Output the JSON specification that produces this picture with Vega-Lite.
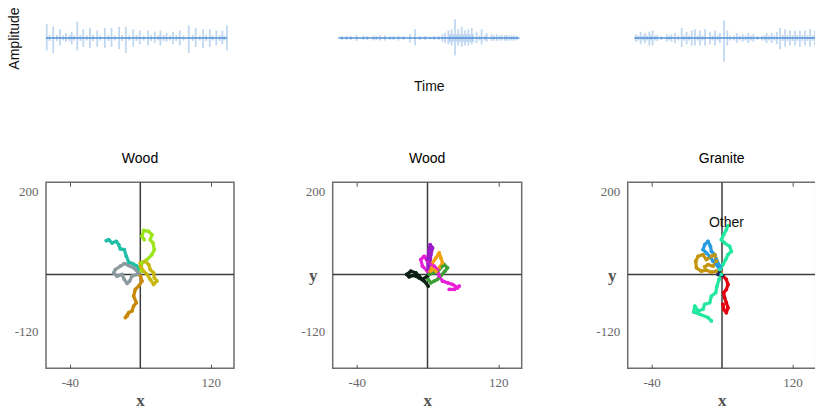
{
  "$schema": "https://vega.github.io/schema/vega-lite/v6.json",
  "autosize": {"type": "none"},
  "padding": {"left": 46, "top": 13, "right": 769, "bottom": 397},
  "config": {
    "view": {"stroke": null},
    "axis": {"grid": false},
    "title": {"font": "Liberation Sans", "fontSize": 14, "fontWeight": "normal", "color": "#000000"},
    "text": {"font": "Liberation Sans"}
  },
  "datasets": {
    "base": [
      {"p": 1, "start": 0, "end": 100, "level": 0},
      {"p": 2, "start": 0, "end": 100, "level": 0},
      {"p": 3, "start": 0, "end": 100, "level": 0}
    ],
    "wave": [
      {"p": 1, "t": 0.4, "lo": -0.5, "hi": 0.55}, {"p": 1, "t": 4.0, "lo": -0.6, "hi": 0.45}, {"p": 1, "t": 7.7, "lo": -0.3, "hi": 0.35},
      {"p": 1, "t": 11, "lo": -0.15, "hi": 0.2}, {"p": 1, "t": 14.2, "lo": -0.25, "hi": 0.25}, {"p": 1, "t": 17.3, "lo": -0.5, "hi": 0.65},
      {"p": 1, "t": 20.6, "lo": -0.35, "hi": 0.35}, {"p": 1, "t": 24.3, "lo": -0.4, "hi": 0.4}, {"p": 1, "t": 28.3, "lo": -0.35, "hi": 0.3},
      {"p": 1, "t": 32.5, "lo": -0.4, "hi": 0.4}, {"p": 1, "t": 36.2, "lo": -0.35, "hi": 0.4}, {"p": 1, "t": 40.4, "lo": -0.45, "hi": 0.45},
      {"p": 1, "t": 44.1, "lo": -0.6, "hi": 0.45}, {"p": 1, "t": 48.2, "lo": -0.35, "hi": 0.35}, {"p": 1, "t": 51.8, "lo": -0.25, "hi": 0.3},
      {"p": 1, "t": 56.4, "lo": -0.3, "hi": 0.3}, {"p": 1, "t": 60.1, "lo": -0.2, "hi": 0.25}, {"p": 1, "t": 63.2, "lo": -0.3, "hi": 0.3},
      {"p": 1, "t": 66.6, "lo": -0.15, "hi": 0.2}, {"p": 1, "t": 70.2, "lo": -0.25, "hi": 0.25}, {"p": 1, "t": 73.9, "lo": -0.3, "hi": 0.3},
      {"p": 1, "t": 78.9, "lo": -0.6, "hi": 0.5}, {"p": 1, "t": 82.7, "lo": -0.35, "hi": 0.4}, {"p": 1, "t": 86.8, "lo": -0.4, "hi": 0.35},
      {"p": 1, "t": 90.5, "lo": -0.35, "hi": 0.35}, {"p": 1, "t": 94.1, "lo": -0.3, "hi": 0.3}, {"p": 1, "t": 97.4, "lo": -0.25, "hi": 0.3},
      {"p": 1, "t": 100, "lo": -0.5, "hi": 0.5},
      {"p": 1, "t": 2, "lo": -0.12, "hi": 0.12}, {"p": 1, "t": 6, "lo": -0.12, "hi": 0.12}, {"p": 1, "t": 9.5, "lo": -0.1, "hi": 0.1},
      {"p": 1, "t": 13, "lo": -0.12, "hi": 0.12}, {"p": 1, "t": 15.5, "lo": -0.1, "hi": 0.1}, {"p": 1, "t": 19, "lo": -0.12, "hi": 0.12},
      {"p": 1, "t": 22.5, "lo": -0.1, "hi": 0.1}, {"p": 1, "t": 26, "lo": -0.12, "hi": 0.12}, {"p": 1, "t": 30, "lo": -0.1, "hi": 0.1},
      {"p": 1, "t": 34.5, "lo": -0.12, "hi": 0.12}, {"p": 1, "t": 38, "lo": -0.1, "hi": 0.1}, {"p": 1, "t": 42, "lo": -0.12, "hi": 0.12},
      {"p": 1, "t": 46, "lo": -0.1, "hi": 0.1}, {"p": 1, "t": 50, "lo": -0.12, "hi": 0.12}, {"p": 1, "t": 54, "lo": -0.1, "hi": 0.1},
      {"p": 1, "t": 58, "lo": -0.12, "hi": 0.12}, {"p": 1, "t": 62, "lo": -0.1, "hi": 0.1}, {"p": 1, "t": 65, "lo": -0.12, "hi": 0.12},
      {"p": 1, "t": 68.5, "lo": -0.1, "hi": 0.1}, {"p": 1, "t": 72, "lo": -0.12, "hi": 0.12}, {"p": 1, "t": 76, "lo": -0.1, "hi": 0.1},
      {"p": 1, "t": 81, "lo": -0.12, "hi": 0.12}, {"p": 1, "t": 85, "lo": -0.1, "hi": 0.1}, {"p": 1, "t": 88.5, "lo": -0.12, "hi": 0.12},
      {"p": 1, "t": 92, "lo": -0.1, "hi": 0.1}, {"p": 1, "t": 96, "lo": -0.12, "hi": 0.12}, {"p": 1, "t": 98.5, "lo": -0.1, "hi": 0.1},
      {"p": 2, "t": 4.6, "lo": -0.08, "hi": 0.08}, {"p": 2, "t": 10.1, "lo": -0.12, "hi": 0.12}, {"p": 2, "t": 13.8, "lo": -0.08, "hi": 0.1},
      {"p": 2, "t": 19.4, "lo": -0.1, "hi": 0.1}, {"p": 2, "t": 23, "lo": -0.1, "hi": 0.12}, {"p": 2, "t": 25.8, "lo": -0.1, "hi": 0.1},
      {"p": 2, "t": 28.6, "lo": -0.08, "hi": 0.08}, {"p": 2, "t": 33.2, "lo": -0.1, "hi": 0.1}, {"p": 2, "t": 39.6, "lo": -0.18, "hi": 0.15},
      {"p": 2, "t": 42.4, "lo": -0.3, "hi": 0.35}, {"p": 2, "t": 50.7, "lo": -0.05, "hi": 0.05}, {"p": 2, "t": 59, "lo": -0.2, "hi": 0.2},
      {"p": 2, "t": 60.8, "lo": -0.25, "hi": 0.3}, {"p": 2, "t": 62.6, "lo": -0.3, "hi": 0.35}, {"p": 2, "t": 64.5, "lo": -0.7, "hi": 0.75},
      {"p": 2, "t": 66.3, "lo": -0.3, "hi": 0.35}, {"p": 2, "t": 68.2, "lo": -0.35, "hi": 0.45}, {"p": 2, "t": 70, "lo": -0.3, "hi": 0.3},
      {"p": 2, "t": 71.8, "lo": -0.3, "hi": 0.35}, {"p": 2, "t": 73.7, "lo": -0.25, "hi": 0.4}, {"p": 2, "t": 76.4, "lo": -0.2, "hi": 0.25},
      {"p": 2, "t": 79.2, "lo": -0.25, "hi": 0.35}, {"p": 2, "t": 82, "lo": -0.15, "hi": 0.2}, {"p": 2, "t": 84.7, "lo": -0.12, "hi": 0.15},
      {"p": 2, "t": 87.5, "lo": -0.12, "hi": 0.15}, {"p": 2, "t": 90.3, "lo": -0.1, "hi": 0.12}, {"p": 2, "t": 93, "lo": -0.12, "hi": 0.12},
      {"p": 2, "t": 95.8, "lo": -0.1, "hi": 0.1}, {"p": 2, "t": 98.5, "lo": -0.1, "hi": 0.1},
      {"p": 2, "t": 57.5, "lo": -0.15, "hi": 0.15}, {"p": 2, "t": 61.7, "lo": -0.15, "hi": 0.15}, {"p": 2, "t": 63.5, "lo": -0.15, "hi": 0.15},
      {"p": 2, "t": 65.4, "lo": -0.15, "hi": 0.15}, {"p": 2, "t": 67.2, "lo": -0.15, "hi": 0.15}, {"p": 2, "t": 69, "lo": -0.15, "hi": 0.15},
      {"p": 2, "t": 70.9, "lo": -0.15, "hi": 0.15}, {"p": 2, "t": 72.7, "lo": -0.15, "hi": 0.15}, {"p": 2, "t": 74.5, "lo": -0.15, "hi": 0.15},
      {"p": 2, "t": 2, "lo": -0.08, "hi": 0.08}, {"p": 2, "t": 7, "lo": -0.08, "hi": 0.08}, {"p": 2, "t": 16, "lo": -0.08, "hi": 0.08},
      {"p": 2, "t": 21, "lo": -0.08, "hi": 0.08}, {"p": 2, "t": 30.5, "lo": -0.08, "hi": 0.08}, {"p": 2, "t": 36, "lo": -0.08, "hi": 0.08},
      {"p": 2, "t": 45, "lo": -0.08, "hi": 0.08}, {"p": 2, "t": 48, "lo": -0.08, "hi": 0.08}, {"p": 2, "t": 53, "lo": -0.08, "hi": 0.08},
      {"p": 2, "t": 55.5, "lo": -0.08, "hi": 0.08}, {"p": 2, "t": 78, "lo": -0.1, "hi": 0.1}, {"p": 2, "t": 81, "lo": -0.1, "hi": 0.1},
      {"p": 2, "t": 86, "lo": -0.1, "hi": 0.1}, {"p": 2, "t": 89, "lo": -0.1, "hi": 0.1}, {"p": 2, "t": 92, "lo": -0.1, "hi": 0.1},
      {"p": 2, "t": 94.5, "lo": -0.1, "hi": 0.1}, {"p": 2, "t": 97, "lo": -0.1, "hi": 0.1},
      {"p": 3, "t": 0.9, "lo": -0.15, "hi": 0.15}, {"p": 3, "t": 3.5, "lo": -0.25, "hi": 0.25}, {"p": 3, "t": 5.9, "lo": -0.2, "hi": 0.2},
      {"p": 3, "t": 8.3, "lo": -0.3, "hi": 0.25}, {"p": 3, "t": 10.1, "lo": -0.3, "hi": 0.3}, {"p": 3, "t": 12.7, "lo": -0.12, "hi": 0.12},
      {"p": 3, "t": 17.9, "lo": -0.15, "hi": 0.15}, {"p": 3, "t": 20.6, "lo": -0.15, "hi": 0.15}, {"p": 3, "t": 22.5, "lo": -0.2, "hi": 0.2},
      {"p": 3, "t": 26.2, "lo": -0.35, "hi": 0.4}, {"p": 3, "t": 28.9, "lo": -0.25, "hi": 0.25}, {"p": 3, "t": 31.7, "lo": -0.3, "hi": 0.3},
      {"p": 3, "t": 33.5, "lo": -0.3, "hi": 0.35}, {"p": 3, "t": 36.3, "lo": -0.3, "hi": 0.3}, {"p": 3, "t": 39.1, "lo": -0.3, "hi": 0.35},
      {"p": 3, "t": 41.8, "lo": -0.25, "hi": 0.25}, {"p": 3, "t": 44.6, "lo": -0.3, "hi": 0.3}, {"p": 3, "t": 47.3, "lo": -0.2, "hi": 0.2},
      {"p": 3, "t": 49.6, "lo": -0.95, "hi": 0.7}, {"p": 3, "t": 51.4, "lo": -0.3, "hi": 0.3}, {"p": 3, "t": 56.6, "lo": -0.2, "hi": 0.2},
      {"p": 3, "t": 59.9, "lo": -0.15, "hi": 0.15}, {"p": 3, "t": 63, "lo": -0.2, "hi": 0.2}, {"p": 3, "t": 65.8, "lo": -0.15, "hi": 0.15},
      {"p": 3, "t": 73.1, "lo": -0.2, "hi": 0.2}, {"p": 3, "t": 75.9, "lo": -0.2, "hi": 0.2}, {"p": 3, "t": 78.7, "lo": -0.25, "hi": 0.25},
      {"p": 3, "t": 80.5, "lo": -0.45, "hi": 0.4}, {"p": 3, "t": 83.3, "lo": -0.35, "hi": 0.35}, {"p": 3, "t": 86, "lo": -0.3, "hi": 0.3},
      {"p": 3, "t": 88.8, "lo": -0.3, "hi": 0.3}, {"p": 3, "t": 91.5, "lo": -0.35, "hi": 0.3}, {"p": 3, "t": 94.3, "lo": -0.3, "hi": 0.3},
      {"p": 3, "t": 97.1, "lo": -0.35, "hi": 0.35}, {"p": 3, "t": 99.8, "lo": -0.3, "hi": 0.3},
      {"p": 3, "t": 2.2, "lo": -0.1, "hi": 0.1}, {"p": 3, "t": 4.7, "lo": -0.1, "hi": 0.1}, {"p": 3, "t": 7, "lo": -0.1, "hi": 0.1},
      {"p": 3, "t": 9.2, "lo": -0.1, "hi": 0.1}, {"p": 3, "t": 11.5, "lo": -0.1, "hi": 0.1}, {"p": 3, "t": 15, "lo": -0.08, "hi": 0.08},
      {"p": 3, "t": 19.3, "lo": -0.1, "hi": 0.1}, {"p": 3, "t": 24.3, "lo": -0.1, "hi": 0.1}, {"p": 3, "t": 27.5, "lo": -0.1, "hi": 0.1},
      {"p": 3, "t": 30.3, "lo": -0.1, "hi": 0.1}, {"p": 3, "t": 35, "lo": -0.1, "hi": 0.1}, {"p": 3, "t": 37.7, "lo": -0.1, "hi": 0.1},
      {"p": 3, "t": 43.2, "lo": -0.1, "hi": 0.1}, {"p": 3, "t": 46, "lo": -0.1, "hi": 0.1}, {"p": 3, "t": 53, "lo": -0.1, "hi": 0.1},
      {"p": 3, "t": 55, "lo": -0.1, "hi": 0.1}, {"p": 3, "t": 58.2, "lo": -0.1, "hi": 0.1}, {"p": 3, "t": 61.5, "lo": -0.1, "hi": 0.1},
      {"p": 3, "t": 64.4, "lo": -0.1, "hi": 0.1}, {"p": 3, "t": 68, "lo": -0.08, "hi": 0.08}, {"p": 3, "t": 70.5, "lo": -0.1, "hi": 0.1},
      {"p": 3, "t": 72, "lo": -0.1, "hi": 0.1}, {"p": 3, "t": 74.5, "lo": -0.1, "hi": 0.1}, {"p": 3, "t": 77.3, "lo": -0.1, "hi": 0.1},
      {"p": 3, "t": 82, "lo": -0.12, "hi": 0.12}, {"p": 3, "t": 84.6, "lo": -0.12, "hi": 0.12}, {"p": 3, "t": 87.4, "lo": -0.12, "hi": 0.12},
      {"p": 3, "t": 90.1, "lo": -0.12, "hi": 0.12}, {"p": 3, "t": 92.9, "lo": -0.12, "hi": 0.12}, {"p": 3, "t": 95.7, "lo": -0.12, "hi": 0.12},
      {"p": 3, "t": 98.5, "lo": -0.12, "hi": 0.12}
    ],
    "walks": [
      {"panel": 1, "walk": "a1", "i": 0, "x": 39.2, "y": 16.3}, {"panel": 1, "walk": "a1", "i": 1, "x": 36.2, "y": 29.9},
      {"panel": 1, "walk": "a1", "i": 2, "x": 31.3, "y": 36}, {"panel": 1, "walk": "a1", "i": 3, "x": 26.8, "y": 39},
      {"panel": 1, "walk": "a1", "i": 4, "x": 24.1, "y": 52.6}, {"panel": 1, "walk": "a1", "i": 5, "x": 21.8, "y": 67.7},
      {"panel": 1, "walk": "a1", "i": 6, "x": 17.3, "y": 69.3}, {"panel": 1, "walk": "a1", "i": 7, "x": 15.4, "y": 79.1},
      {"panel": 1, "walk": "a1", "i": 8, "x": 12.8, "y": 86.7}, {"panel": 1, "walk": "a1", "i": 9, "x": 7.8, "y": 82.9},
      {"panel": 1, "walk": "a1", "i": 10, "x": 4.1, "y": 90.4}, {"panel": 1, "walk": "a1", "i": 11, "x": 1.4, "y": 88.2},
      {"panel": 1, "walk": "a2", "i": 0, "x": 40.8, "y": 18.6}, {"panel": 1, "walk": "a2", "i": 1, "x": 41.9, "y": 37.5},
      {"panel": 1, "walk": "a2", "i": 2, "x": 47.6, "y": 45}, {"panel": 1, "walk": "a2", "i": 3, "x": 53.2, "y": 56.4},
      {"panel": 1, "walk": "a2", "i": 4, "x": 55.9, "y": 67.7}, {"panel": 1, "walk": "a2", "i": 5, "x": 54.4, "y": 82.9},
      {"panel": 1, "walk": "a2", "i": 6, "x": 51.3, "y": 90.4}, {"panel": 1, "walk": "a2", "i": 7, "x": 53.2, "y": 101.8},
      {"panel": 1, "walk": "a2", "i": 8, "x": 49.5, "y": 109.3}, {"panel": 1, "walk": "a2", "i": 9, "x": 43.8, "y": 111.6},
      {"panel": 1, "walk": "a2", "i": 10, "x": 41.9, "y": 98}, {"panel": 1, "walk": "a2", "i": 11, "x": 44.5, "y": 90.4},
      {"panel": 1, "walk": "a3", "i": 0, "x": 40, "y": 37.5}, {"panel": 1, "walk": "a3", "i": 1, "x": 45.7, "y": 41.3},
      {"panel": 1, "walk": "a3", "i": 2, "x": 49.5, "y": 33.7}, {"panel": 1, "walk": "a3", "i": 3, "x": 51.3, "y": 22.3},
      {"panel": 1, "walk": "a3", "i": 4, "x": 55.1, "y": 14.8}, {"panel": 1, "walk": "a3", "i": 5, "x": 55.9, "y": 3.4},
      {"panel": 1, "walk": "a3", "i": 6, "x": 58.9, "y": -4.1}, {"panel": 1, "walk": "a3", "i": 7, "x": 55.1, "y": -11.7},
      {"panel": 1, "walk": "a3", "i": 8, "x": 51.3, "y": -0.3}, {"panel": 1, "walk": "a3", "i": 9, "x": 47.6, "y": 11},
      {"panel": 1, "walk": "a3", "i": 10, "x": 43.8, "y": 18.6}, {"panel": 1, "walk": "a3", "i": 11, "x": 40, "y": 29.9},
      {"panel": 1, "walk": "a4", "i": 0, "x": 38.1, "y": 14.8}, {"panel": 1, "walk": "a4", "i": 1, "x": 32.4, "y": 26.1},
      {"panel": 1, "walk": "a4", "i": 2, "x": 26.8, "y": 31.4}, {"panel": 1, "walk": "a4", "i": 3, "x": 21.8, "y": 36},
      {"panel": 1, "walk": "a4", "i": 4, "x": 17.3, "y": 29.9}, {"panel": 1, "walk": "a4", "i": 5, "x": 11.6, "y": 22.3},
      {"panel": 1, "walk": "a4", "i": 6, "x": 9.7, "y": 14.8}, {"panel": 1, "walk": "a4", "i": 7, "x": 13.5, "y": 7.2},
      {"panel": 1, "walk": "a4", "i": 8, "x": 19.2, "y": 11}, {"panel": 1, "walk": "a4", "i": 9, "x": 21.8, "y": -0.3},
      {"panel": 1, "walk": "a4", "i": 10, "x": 24.9, "y": -9.4}, {"panel": 1, "walk": "a4", "i": 11, "x": 27.9, "y": -4.1},
      {"panel": 1, "walk": "a4", "i": 12, "x": 30.5, "y": 7.2}, {"panel": 1, "walk": "a4", "i": 13, "x": 36.2, "y": 11},
      {"panel": 1, "walk": "a5", "i": 0, "x": 40, "y": 8.7}, {"panel": 1, "walk": "a5", "i": 1, "x": 41.9, "y": -4.1},
      {"panel": 1, "walk": "a5", "i": 2, "x": 38.1, "y": -15.5}, {"panel": 1, "walk": "a5", "i": 3, "x": 34.3, "y": -23},
      {"panel": 1, "walk": "a5", "i": 4, "x": 32.4, "y": -38.2}, {"panel": 1, "walk": "a5", "i": 5, "x": 35.5, "y": -53.3},
      {"panel": 1, "walk": "a5", "i": 6, "x": 32.4, "y": -60.9}, {"panel": 1, "walk": "a5", "i": 7, "x": 30.5, "y": -72.2},
      {"panel": 1, "walk": "a5", "i": 8, "x": 26.8, "y": -76}, {"panel": 1, "walk": "a5", "i": 9, "x": 24.9, "y": -83.6},
      {"panel": 1, "walk": "a5", "i": 10, "x": 23, "y": -87.3}, {"panel": 1, "walk": "a5", "i": 11, "x": 25.6, "y": -79.8},
      {"panel": 2, "walk": "b1", "i": 0, "x": 40, "y": 7.2}, {"panel": 2, "walk": "b1", "i": 1, "x": 34.3, "y": -0.3},
      {"panel": 2, "walk": "b1", "i": 2, "x": 30.5, "y": 7.2}, {"panel": 2, "walk": "b1", "i": 3, "x": 26.8, "y": 14.8},
      {"panel": 2, "walk": "b1", "i": 4, "x": 21.1, "y": 18.6}, {"panel": 2, "walk": "b1", "i": 5, "x": 16.5, "y": 11},
      {"panel": 2, "walk": "b1", "i": 6, "x": 19.2, "y": 5.7}, {"panel": 2, "walk": "b1", "i": 7, "x": 24.9, "y": 8.7},
      {"panel": 2, "walk": "b1", "i": 8, "x": 30.5, "y": 3.4}, {"panel": 2, "walk": "b1", "i": 9, "x": 36.2, "y": -4.1},
      {"panel": 2, "walk": "b1", "i": 10, "x": 40.8, "y": -15.5},
      {"panel": 2, "walk": "b2", "i": 0, "x": 40, "y": 18.6}, {"panel": 2, "walk": "b2", "i": 1, "x": 34.3, "y": 29.9},
      {"panel": 2, "walk": "b2", "i": 2, "x": 32.4, "y": 45}, {"panel": 2, "walk": "b2", "i": 3, "x": 36.2, "y": 52.6},
      {"panel": 2, "walk": "b2", "i": 4, "x": 40, "y": 41.3}, {"panel": 2, "walk": "b2", "i": 5, "x": 43.8, "y": 33.7},
      {"panel": 2, "walk": "b2", "i": 6, "x": 47.6, "y": 29.9}, {"panel": 2, "walk": "b2", "i": 7, "x": 51.3, "y": 22.3},
      {"panel": 2, "walk": "b2", "i": 8, "x": 53.2, "y": 7.2}, {"panel": 2, "walk": "b2", "i": 9, "x": 57, "y": -4.1},
      {"panel": 2, "walk": "b2", "i": 10, "x": 62.7, "y": -7.9}, {"panel": 2, "walk": "b2", "i": 11, "x": 68.4, "y": -11.7},
      {"panel": 2, "walk": "b2", "i": 12, "x": 74, "y": -19.3}, {"panel": 2, "walk": "b2", "i": 13, "x": 75.9, "y": -15.5},
      {"panel": 2, "walk": "b2", "i": 14, "x": 70.3, "y": -23}, {"panel": 2, "walk": "b2", "i": 15, "x": 64.6, "y": -23},
      {"panel": 2, "walk": "b3", "i": 0, "x": 40.8, "y": 22.3}, {"panel": 2, "walk": "b3", "i": 1, "x": 43, "y": 37.5},
      {"panel": 2, "walk": "b3", "i": 2, "x": 43.8, "y": 56.4}, {"panel": 2, "walk": "b3", "i": 3, "x": 45.7, "y": 71.5},
      {"panel": 2, "walk": "b3", "i": 4, "x": 43, "y": 79.1}, {"panel": 2, "walk": "b3", "i": 5, "x": 41.9, "y": 67.7},
      {"panel": 2, "walk": "b3", "i": 6, "x": 40, "y": 45}, {"panel": 2, "walk": "b3", "i": 7, "x": 40.8, "y": 29.9},
      {"panel": 2, "walk": "b4", "i": 0, "x": 43, "y": 18.6}, {"panel": 2, "walk": "b4", "i": 1, "x": 45.7, "y": 37.5},
      {"panel": 2, "walk": "b4", "i": 2, "x": 49.5, "y": 48.8}, {"panel": 2, "walk": "b4", "i": 3, "x": 53.2, "y": 60.2},
      {"panel": 2, "walk": "b4", "i": 4, "x": 55.1, "y": 48.8}, {"panel": 2, "walk": "b4", "i": 5, "x": 57, "y": 37.5},
      {"panel": 2, "walk": "b4", "i": 6, "x": 53.2, "y": 26.1}, {"panel": 2, "walk": "b4", "i": 7, "x": 49.5, "y": 18.6},
      {"panel": 2, "walk": "b4", "i": 8, "x": 45.7, "y": 22.3},
      {"panel": 2, "walk": "b5", "i": 0, "x": 41.9, "y": 11}, {"panel": 2, "walk": "b5", "i": 1, "x": 47.6, "y": 14.8},
      {"panel": 2, "walk": "b5", "i": 2, "x": 53.2, "y": 22.3}, {"panel": 2, "walk": "b5", "i": 3, "x": 58.9, "y": 33.7},
      {"panel": 2, "walk": "b5", "i": 4, "x": 62.7, "y": 26.1}, {"panel": 2, "walk": "b5", "i": 5, "x": 59.7, "y": 18.6},
      {"panel": 2, "walk": "b5", "i": 6, "x": 55.1, "y": 8.7}, {"panel": 2, "walk": "b5", "i": 7, "x": 51.3, "y": -0.3},
      {"panel": 2, "walk": "b5", "i": 8, "x": 47.6, "y": -4.1}, {"panel": 2, "walk": "b5", "i": 9, "x": 43.8, "y": -7.9},
      {"panel": 2, "walk": "b5", "i": 10, "x": 40.8, "y": -0.3},
      {"panel": 3, "walk": "c1", "i": 0, "x": 46.8, "y": 122.2}, {"panel": 3, "walk": "c1", "i": 1, "x": 44.9, "y": 113.1},
      {"panel": 3, "walk": "c1", "i": 2, "x": 41.9, "y": 101.8}, {"panel": 3, "walk": "c1", "i": 3, "x": 39.2, "y": 90.4},
      {"panel": 3, "walk": "c1", "i": 4, "x": 43, "y": 82.9}, {"panel": 3, "walk": "c1", "i": 5, "x": 48.7, "y": 75.3},
      {"panel": 3, "walk": "c1", "i": 6, "x": 50.6, "y": 64}, {"panel": 3, "walk": "c1", "i": 7, "x": 46.8, "y": 56.4},
      {"panel": 3, "walk": "c1", "i": 8, "x": 44.2, "y": 45}, {"panel": 3, "walk": "c1", "i": 9, "x": 41.1, "y": 33.7},
      {"panel": 3, "walk": "c1", "i": 10, "x": 37.4, "y": 22.3}, {"panel": 3, "walk": "c1", "i": 11, "x": 39.2, "y": 11},
      {"panel": 3, "walk": "c1", "i": 12, "x": 36.6, "y": -0.3}, {"panel": 3, "walk": "c1", "i": 13, "x": 34.3, "y": -15.5},
      {"panel": 3, "walk": "c1", "i": 14, "x": 32.8, "y": -30.6}, {"panel": 3, "walk": "c1", "i": 15, "x": 27.9, "y": -38.2},
      {"panel": 3, "walk": "c1", "i": 16, "x": 26, "y": -53.3}, {"panel": 3, "walk": "c1", "i": 17, "x": 20.3, "y": -57.1},
      {"panel": 3, "walk": "c1", "i": 18, "x": 18.4, "y": -68.4}, {"panel": 3, "walk": "c1", "i": 19, "x": 12.8, "y": -72.2},
      {"panel": 3, "walk": "c1", "i": 20, "x": 9, "y": -60.9}, {"panel": 3, "walk": "c1", "i": 21, "x": 7.8, "y": -74.5},
      {"panel": 3, "walk": "c1", "i": 22, "x": 14.7, "y": -79.8}, {"panel": 3, "walk": "c1", "i": 23, "x": 24.1, "y": -87.3},
      {"panel": 3, "walk": "c1", "i": 24, "x": 27.9, "y": -94.9},
      {"panel": 3, "walk": "c2", "i": 0, "x": 37.4, "y": 22.3}, {"panel": 3, "walk": "c2", "i": 1, "x": 33.6, "y": 33.7},
      {"panel": 3, "walk": "c2", "i": 2, "x": 29.8, "y": 41.3}, {"panel": 3, "walk": "c2", "i": 3, "x": 26, "y": 52.6},
      {"panel": 3, "walk": "c2", "i": 4, "x": 22.2, "y": 60.2}, {"panel": 3, "walk": "c2", "i": 5, "x": 18.4, "y": 67.7},
      {"panel": 3, "walk": "c2", "i": 6, "x": 20.3, "y": 79.1}, {"panel": 3, "walk": "c2", "i": 7, "x": 24.1, "y": 86.7},
      {"panel": 3, "walk": "c2", "i": 8, "x": 26.8, "y": 75.3}, {"panel": 3, "walk": "c2", "i": 9, "x": 27.9, "y": 64},
      {"panel": 3, "walk": "c2", "i": 10, "x": 31.7, "y": 56.4}, {"panel": 3, "walk": "c2", "i": 11, "x": 33.6, "y": 45},
      {"panel": 3, "walk": "c2", "i": 12, "x": 37.4, "y": 29.9},
      {"panel": 3, "walk": "c3", "i": 0, "x": 39.2, "y": 14.8}, {"panel": 3, "walk": "c3", "i": 1, "x": 33.6, "y": 18.6},
      {"panel": 3, "walk": "c3", "i": 2, "x": 27.9, "y": 16.3}, {"panel": 3, "walk": "c3", "i": 3, "x": 22.2, "y": 20.8},
      {"panel": 3, "walk": "c3", "i": 4, "x": 16.5, "y": 18.6}, {"panel": 3, "walk": "c3", "i": 5, "x": 10.9, "y": 26.1},
      {"panel": 3, "walk": "c3", "i": 6, "x": 10.1, "y": 41.3}, {"panel": 3, "walk": "c3", "i": 7, "x": 12.8, "y": 52.6},
      {"panel": 3, "walk": "c3", "i": 8, "x": 18.4, "y": 56.4}, {"panel": 3, "walk": "c3", "i": 9, "x": 22.2, "y": 45},
      {"panel": 3, "walk": "c3", "i": 10, "x": 27.9, "y": 52.6}, {"panel": 3, "walk": "c3", "i": 11, "x": 31.7, "y": 56.4},
      {"panel": 3, "walk": "c3", "i": 12, "x": 33.6, "y": 41.3}, {"panel": 3, "walk": "c3", "i": 13, "x": 29.8, "y": 29.9},
      {"panel": 3, "walk": "c3", "i": 14, "x": 24.1, "y": 33.7}, {"panel": 3, "walk": "c3", "i": 15, "x": 20.3, "y": 28.4},
      {"panel": 3, "walk": "c4", "i": 0, "x": 41.1, "y": 7.2}, {"panel": 3, "walk": "c4", "i": 1, "x": 44.9, "y": -0.3},
      {"panel": 3, "walk": "c4", "i": 2, "x": 46.8, "y": -11.7}, {"panel": 3, "walk": "c4", "i": 3, "x": 44.9, "y": -23},
      {"panel": 3, "walk": "c4", "i": 4, "x": 41.9, "y": -30.6}, {"panel": 3, "walk": "c4", "i": 5, "x": 43, "y": -42},
      {"panel": 3, "walk": "c4", "i": 6, "x": 44.9, "y": -53.3}, {"panel": 3, "walk": "c4", "i": 7, "x": 46.8, "y": -64.7},
      {"panel": 3, "walk": "c4", "i": 8, "x": 44.9, "y": -76}, {"panel": 3, "walk": "c4", "i": 9, "x": 41.9, "y": -68.4},
      {"panel": 3, "walk": "c4", "i": 10, "x": 41.1, "y": -57.1},
      {"panel": 3, "walk": "c5", "i": 0, "x": 35.5, "y": 11}, {"panel": 3, "walk": "c5", "i": 1, "x": 37.4, "y": 16.3},
      {"panel": 3, "walk": "c5", "i": 2, "x": 40.4, "y": 8.7}
    ]
  },
  "vconcat": [
    {
      "hconcat": [
        {
          "width": 181, "height": 50,
          "layer": [
            {"data": {"name": "wave"}, "transform": [{"filter": "datum.p == 1"}],
             "mark": {"type": "rule", "color": "#3f86d4", "opacity": 0.32, "strokeWidth": 1.8},
             "encoding": {
               "x": {"field": "t", "type": "quantitative", "scale": {"domain": [0, 100], "nice": false, "zero": false}, "axis": null},
               "y": {"field": "lo", "type": "quantitative", "scale": {"domain": [-1, 1], "nice": false, "zero": false},
                     "axis": {"title": "Amplitude", "labels": false, "ticks": false, "domain": false, "grid": false, "titleAngle": 270, "titleX": -32, "titleY": 25, "titleAlign": "center", "titleBaseline": "middle", "titleFont": "Liberation Sans", "titleFontSize": 14, "titleFontWeight": "normal", "titleColor": "#111111"}},
               "y2": {"field": "hi"}}},
            {"data": {"name": "base"}, "transform": [{"filter": "datum.p == 1"}],
             "mark": {"type": "rule", "color": "#3a7fcf", "opacity": 0.85, "strokeWidth": 1.6},
             "encoding": {"x": {"field": "start", "type": "quantitative", "axis": null}, "x2": {"field": "end"},
               "y": {"field": "level", "type": "quantitative",
                     "axis": {"title": "Amplitude", "labels": false, "ticks": false, "domain": false, "grid": false, "titleAngle": 270, "titleX": -32, "titleY": 25, "titleAlign": "center", "titleBaseline": "middle", "titleFont": "Liberation Sans", "titleFontSize": 14, "titleFontWeight": "normal", "titleColor": "#111111"}}}}
          ]
        },
        {
          "hconcat": [
            {
              "width": 181, "height": 50,
              "layer": [
                {"data": {"name": "wave"}, "transform": [{"filter": "datum.p == 2"}],
                 "mark": {"type": "rule", "color": "#3f86d4", "opacity": 0.32, "strokeWidth": 1.8},
                 "encoding": {
                   "x": {"field": "t", "type": "quantitative", "scale": {"domain": [0, 100], "nice": false, "zero": false},
                         "axis": {"title": "Time", "labels": false, "ticks": false, "domain": false, "grid": false, "titleX": 90.5, "titleY": 23, "titleAlign": "center", "titleBaseline": "middle", "titleFont": "Liberation Sans", "titleFontSize": 14, "titleFontWeight": "normal", "titleColor": "#111111"}},
                   "y": {"field": "lo", "type": "quantitative", "scale": {"domain": [-1, 1], "nice": false, "zero": false}, "axis": null},
                   "y2": {"field": "hi"}}},
                {"data": {"name": "base"}, "transform": [{"filter": "datum.p == 2"}],
                 "mark": {"type": "rule", "color": "#3a7fcf", "opacity": 0.85, "strokeWidth": 1.6},
                 "encoding": {
                   "x": {"field": "start", "type": "quantitative",
                         "axis": {"title": "Time", "labels": false, "ticks": false, "domain": false, "grid": false, "titleX": 90.5, "titleY": 23, "titleAlign": "center", "titleBaseline": "middle", "titleFont": "Liberation Sans", "titleFontSize": 14, "titleFontWeight": "normal", "titleColor": "#111111"}},
                   "x2": {"field": "end"}, "y": {"field": "level", "type": "quantitative", "axis": null}}}
              ]
            },
            {
              "width": 181, "height": 50,
              "layer": [
                {"data": {"name": "wave"}, "transform": [{"filter": "datum.p == 3"}],
                 "mark": {"type": "rule", "color": "#3f86d4", "opacity": 0.32, "strokeWidth": 1.8},
                 "encoding": {
                   "x": {"field": "t", "type": "quantitative", "scale": {"domain": [0, 100], "nice": false, "zero": false}, "axis": null},
                   "y": {"field": "lo", "type": "quantitative", "scale": {"domain": [-1, 1], "nice": false, "zero": false}, "axis": null},
                   "y2": {"field": "hi"}}},
                {"data": {"name": "base"}, "transform": [{"filter": "datum.p == 3"}],
                 "mark": {"type": "rule", "color": "#3a7fcf", "opacity": 0.85, "strokeWidth": 1.6},
                 "encoding": {"x": {"field": "start", "type": "quantitative", "axis": null}, "x2": {"field": "end"}, "y": {"field": "level", "type": "quantitative", "axis": null}}}
              ]
            }
          ],
          "spacing": 115,
          "bounds": "flush"
        }
      ],
      "spacing": 111.3,
      "bounds": "flush"
    },
    {
      "hconcat": [
        {
          "width": 188, "height": 186,
          "view": {"stroke": "#6e6e6e", "strokeWidth": 1.5},
          "title": {"text": "Wood", "offset": 16},
          "layer": [
            {"data": {"values": [{"cx": 40}]}, "mark": {"type": "rule", "color": "#3c3c3c", "strokeWidth": 1.5},
             "encoding": {"x": {"field": "cx", "type": "quantitative", "scale": {"domain": [-67.2, 146.5], "nice": false, "zero": false},
               "axis": {"orient": "top", "values": [-40, 120], "labels": false, "domain": false, "grid": false, "ticks": true, "tickSize": -4, "tickColor": "#555555", "title": null}}}},
            {"data": {"values": [{"cy": 11}]}, "mark": {"type": "rule", "color": "#3c3c3c", "strokeWidth": 1.5},
             "encoding": {"y": {"field": "cy", "type": "quantitative", "scale": {"domain": [-203, 221.3], "nice": false, "zero": false},
               "axis": {"values": [200, -120], "labelExpr": "'' + datum.value", "domain": false, "grid": false, "ticks": false, "labelFont": "Liberation Serif", "labelFontSize": 13, "labelColor": "#666666", "labelPadding": 8, "title": null}}}},
            {"data": {"name": "walks"}, "transform": [{"filter": "datum.panel == 1"}],
             "mark": {"type": "line", "strokeWidth": 3.2, "strokeJoin": "round", "strokeCap": "round", "point": {"filled": true, "size": 14}},
             "encoding": {
               "x": {"field": "x", "type": "quantitative",
                     "axis": {"orient": "bottom", "values": [-40, 120], "labelExpr": "'' + datum.value", "domain": false, "grid": false, "ticks": true, "tickSize": -4, "tickColor": "#555555", "labelFont": "Liberation Serif", "labelFontSize": 13, "labelColor": "#666666", "labelPadding": 12.5, "title": "x", "titleFont": "Liberation Serif", "titleFontSize": 17, "titleFontWeight": "bold", "titleColor": "#555555", "titlePadding": 2.5}},
               "y": {"field": "y", "type": "quantitative",
                     "axis": {"values": [200, -120], "labelExpr": "'' + datum.value", "domain": false, "grid": false, "ticks": false, "labelFont": "Liberation Serif", "labelFontSize": 13, "labelColor": "#666666", "labelPadding": 8, "title": null}},
               "color": {"field": "walk", "type": "nominal", "legend": null,
                         "scale": {"domain": ["a1", "a2", "a3", "a4", "a5", "b1", "b2", "b3", "b4", "b5", "c1", "c2", "c3", "c4", "c5"],
                                   "range": ["#1fbfa6", "#9be51c", "#c8b80e", "#8c9aa0", "#c8880a", "#0b1f12", "#e81ed8", "#9a1cc8", "#f2a10c", "#3f9e36", "#22e8a0", "#2a9de2", "#c4960e", "#e5000f", "#1c2a6a"]}},
               "order": {"field": "i", "type": "quantitative"}}}
          ],
          "resolve": {"axis": {"x": "independent"}}
        },
        {
          "hconcat": [
            {
              "width": 189, "height": 186,
              "view": {"stroke": "#6e6e6e", "strokeWidth": 1.5},
              "title": {"text": "Wood", "offset": 16},
              "layer": [
                {"data": {"values": [{"cx": 40}]}, "mark": {"type": "rule", "color": "#3c3c3c", "strokeWidth": 1.5},
                 "encoding": {"x": {"field": "cx", "type": "quantitative", "scale": {"domain": [-67.2, 146.5], "nice": false, "zero": false},
                   "axis": {"orient": "top", "values": [-40, 120], "labels": false, "domain": false, "grid": false, "ticks": true, "tickSize": -4, "tickColor": "#555555", "title": null}}}},
                {"data": {"values": [{"cy": 11}]}, "mark": {"type": "rule", "color": "#3c3c3c", "strokeWidth": 1.5},
                 "encoding": {"y": {"field": "cy", "type": "quantitative", "scale": {"domain": [-203, 221.3], "nice": false, "zero": false},
                   "axis": {"values": [200, -120], "labelExpr": "'' + datum.value", "domain": false, "grid": false, "ticks": false, "labelFont": "Liberation Serif", "labelFontSize": 13, "labelColor": "#666666", "labelPadding": 8, "title": "y", "titleFont": "Liberation Serif", "titleFontSize": 17, "titleFontWeight": "bold", "titleColor": "#555555", "titleAngle": 0, "titleX": -20, "titleY": 93, "titleAlign": "center", "titleBaseline": "middle"}}}},
                {"data": {"name": "walks"}, "transform": [{"filter": "datum.panel == 2"}],
                 "mark": {"type": "line", "strokeWidth": 3.2, "strokeJoin": "round", "strokeCap": "round", "point": {"filled": true, "size": 14}},
                 "encoding": {
                   "x": {"field": "x", "type": "quantitative",
                         "axis": {"orient": "bottom", "values": [-40, 120], "labelExpr": "'' + datum.value", "domain": false, "grid": false, "ticks": true, "tickSize": -4, "tickColor": "#555555", "labelFont": "Liberation Serif", "labelFontSize": 13, "labelColor": "#666666", "labelPadding": 12.5, "title": "x", "titleFont": "Liberation Serif", "titleFontSize": 17, "titleFontWeight": "bold", "titleColor": "#555555", "titlePadding": 2.5}},
                   "y": {"field": "y", "type": "quantitative",
                         "axis": {"values": [200, -120], "labelExpr": "'' + datum.value", "domain": false, "grid": false, "ticks": false, "labelFont": "Liberation Serif", "labelFontSize": 13, "labelColor": "#666666", "labelPadding": 8, "title": "y", "titleFont": "Liberation Serif", "titleFontSize": 17, "titleFontWeight": "bold", "titleColor": "#555555", "titleAngle": 0, "titleX": -20, "titleY": 93, "titleAlign": "center", "titleBaseline": "middle"}},
                   "color": {"field": "walk", "type": "nominal", "legend": null,
                             "scale": {"domain": ["a1", "a2", "a3", "a4", "a5", "b1", "b2", "b3", "b4", "b5", "c1", "c2", "c3", "c4", "c5"],
                                       "range": ["#1fbfa6", "#9be51c", "#c8b80e", "#8c9aa0", "#c8880a", "#0b1f12", "#e81ed8", "#9a1cc8", "#f2a10c", "#3f9e36", "#22e8a0", "#2a9de2", "#c4960e", "#e5000f", "#1c2a6a"]}},
                   "order": {"field": "i", "type": "quantitative"}}}
              ],
              "resolve": {"axis": {"x": "independent"}}
            },
            {
              "width": 188, "height": 186,
              "view": {"stroke": "#6e6e6e", "strokeWidth": 1.5},
              "title": {"text": "Granite", "offset": 16},
              "layer": [
                {"data": {"values": [{"cx": 40}]}, "mark": {"type": "rule", "color": "#3c3c3c", "strokeWidth": 1.5},
                 "encoding": {"x": {"field": "cx", "type": "quantitative", "scale": {"domain": [-67.2, 146.5], "nice": false, "zero": false},
                   "axis": {"orient": "top", "values": [-40, 120], "labels": false, "domain": false, "grid": false, "ticks": true, "tickSize": -4, "tickColor": "#555555", "title": null}}}},
                {"data": {"values": [{"cy": 11}]}, "mark": {"type": "rule", "color": "#3c3c3c", "strokeWidth": 1.5},
                 "encoding": {"y": {"field": "cy", "type": "quantitative", "scale": {"domain": [-203, 221.3], "nice": false, "zero": false},
                   "axis": {"values": [200, -120], "labelExpr": "'' + datum.value", "domain": false, "grid": false, "ticks": false, "labelFont": "Liberation Serif", "labelFontSize": 13, "labelColor": "#666666", "labelPadding": 8, "title": "y", "titleFont": "Liberation Serif", "titleFontSize": 17, "titleFontWeight": "bold", "titleColor": "#555555", "titleAngle": 0, "titleX": -16, "titleY": 93, "titleAlign": "center", "titleBaseline": "middle"}}}},
                {"data": {"name": "walks"}, "transform": [{"filter": "datum.panel == 3"}],
                 "mark": {"type": "line", "strokeWidth": 3.2, "strokeJoin": "round", "strokeCap": "round", "point": {"filled": true, "size": 14}},
                 "encoding": {
                   "x": {"field": "x", "type": "quantitative",
                         "axis": {"orient": "bottom", "values": [-40, 120], "labelExpr": "'' + datum.value", "domain": false, "grid": false, "ticks": true, "tickSize": -4, "tickColor": "#555555", "labelFont": "Liberation Serif", "labelFontSize": 13, "labelColor": "#666666", "labelPadding": 12.5, "title": "x", "titleFont": "Liberation Serif", "titleFontSize": 17, "titleFontWeight": "bold", "titleColor": "#555555", "titlePadding": 2.5}},
                   "y": {"field": "y", "type": "quantitative",
                         "axis": {"values": [200, -120], "labelExpr": "'' + datum.value", "domain": false, "grid": false, "ticks": false, "labelFont": "Liberation Serif", "labelFontSize": 13, "labelColor": "#666666", "labelPadding": 8, "title": "y", "titleFont": "Liberation Serif", "titleFontSize": 17, "titleFontWeight": "bold", "titleColor": "#555555", "titleAngle": 0, "titleX": -16, "titleY": 93, "titleAlign": "center", "titleBaseline": "middle"}},
                   "color": {"field": "walk", "type": "nominal", "legend": null,
                             "scale": {"domain": ["a1", "a2", "a3", "a4", "a5", "b1", "b2", "b3", "b4", "b5", "c1", "c2", "c3", "c4", "c5"],
                                       "range": ["#1fbfa6", "#9be51c", "#c8b80e", "#8c9aa0", "#c8880a", "#0b1f12", "#e81ed8", "#9a1cc8", "#f2a10c", "#3f9e36", "#22e8a0", "#2a9de2", "#c4960e", "#e5000f", "#1c2a6a"]}},
                   "order": {"field": "i", "type": "quantitative"}}},
                {"data": {"values": [{"label": "Other", "lx": 45, "ly": 128}]},
                 "mark": {"type": "text", "font": "Liberation Sans", "fontSize": 14, "color": "#111111", "align": "center", "baseline": "middle"},
                 "encoding": {"x": {"field": "lx", "type": "quantitative", "axis": null},
                   "y": {"field": "ly", "type": "quantitative",
                         "axis": {"values": [200, -120], "labelExpr": "'' + datum.value", "domain": false, "grid": false, "ticks": false, "labelFont": "Liberation Serif", "labelFontSize": 13, "labelColor": "#666666", "labelPadding": 8, "title": "y", "titleFont": "Liberation Serif", "titleFontSize": 17, "titleFontWeight": "bold", "titleColor": "#555555", "titleAngle": 0, "titleX": -16, "titleY": 93, "titleAlign": "center", "titleBaseline": "middle"}},
                   "text": {"field": "label"}}}
              ],
              "resolve": {"axis": {"x": "independent"}}
            }
          ],
          "spacing": 106,
          "bounds": "flush"
        }
      ],
      "spacing": 98.7,
      "bounds": "flush"
    }
  ],
  "spacing": 169.3,
  "bounds": "flush"
}
